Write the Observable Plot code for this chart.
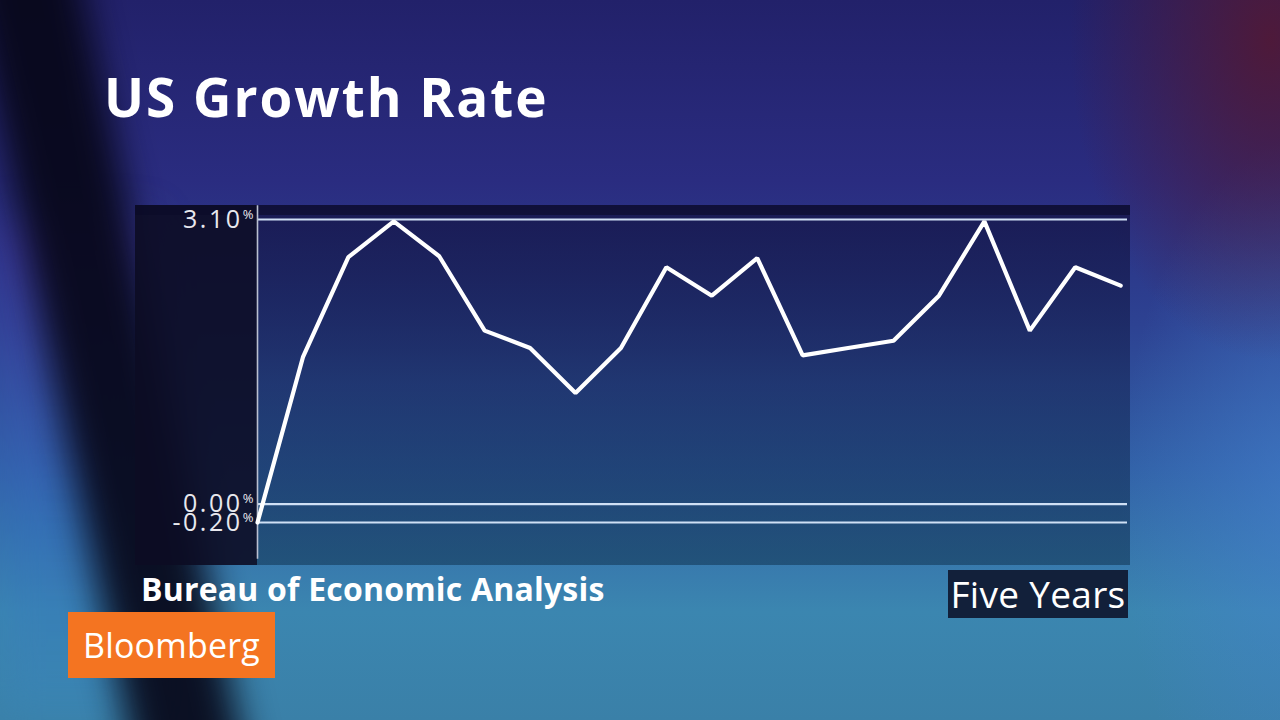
<!DOCTYPE html>
<html>
<head>
<meta charset="utf-8">
<script src="https://cdn.jsdelivr.net/npm/d3@7"></script>
<script src="https://cdn.jsdelivr.net/npm/@observablehq/plot@0.6"></script>
<style>
  html, body { margin: 0; padding: 0; }
  body {
    width: 1280px; height: 720px; overflow: hidden; position: relative;
    font-family: "Open Sans", "Lato", sans-serif;
    background:
      radial-gradient(ellipse 200px 320px at 1270px 40px, rgba(80,25,55,0.95), rgba(0,0,0,0)),
      radial-gradient(ellipse 180px 360px at 1300px 500px, rgba(70,130,210,0.55), rgba(0,0,0,0)),
      linear-gradient(180deg, #22216a 0%, #2a2c80 25%, #2d4292 45%, #3262a8 65%, #3b86b0 85%, #3a80a8 100%);
  }
  #leftglow {
    position: absolute; left: 0; top: 220px; width: 150px; height: 500px;
    background: linear-gradient(180deg, rgba(70,50,160,0.6) 0%, rgba(50,110,190,0.5) 60%, rgba(60,140,190,0.4) 100%);
    filter: blur(20px);
  }
  #shadow {
    position: absolute; left: -40px; top: -60px; width: 110px; height: 880px;
    background: rgba(6,6,24,0.92);
    transform: rotate(-12deg); transform-origin: top left; filter: blur(18px);
  }
  .t { position: absolute; color: #fff; white-space: nowrap; line-height: 1; }
  #title { left: 104px; top: 70px; font-size: 53px; font-weight: 700; letter-spacing: 2px; }
  #panelLeft {
    position: absolute; left: 135px; top: 205px; width: 122px; height: 360px;
    background: rgba(12,12,35,0.9);
  }
  #panelPlot {
    position: absolute; left: 257px; top: 205px; width: 873px; height: 360px;
    background: linear-gradient(180deg, rgba(20,20,70,0.75) 0%, rgba(20,35,80,0.55) 50%, rgba(15,50,80,0.55) 100%);
  }
  #panelTop {
    position: absolute; left: 135px; top: 205px; width: 995px; height: 10px;
    background: rgba(10,10,40,0.6);
  }
  #chart { position: absolute; left: 135px; top: 205px; }
  #chart svg text { letter-spacing: 2.5px; }
  #chart svg g.pct text { letter-spacing: 0; }
  #source { left: 141px; top: 573px; font-size: 32px; font-weight: 700; letter-spacing: 0.2px; }
  #period {
    position: absolute; left: 948px; top: 570px; width: 180px; height: 48px;
    background: #12203a; color: #fff; font-size: 37px; line-height: 48px;
    text-align: center; white-space: nowrap; letter-spacing: 0.3px;
  }
  #brand {
    position: absolute; left: 68px; top: 612px; width: 207px; height: 66px;
    background: #f47421; color: #fff; font-size: 34px; line-height: 66px;
    text-align: center; white-space: nowrap; letter-spacing: 0.2px;
  }
</style>
</head>
<body>
<div id="leftglow"></div>
<div id="shadow"></div>
<div id="title" class="t">US Growth Rate</div>
<div id="panelLeft"></div>
<div id="panelPlot"></div>
<div id="panelTop"></div>
<div id="chart"></div>
<div id="source" class="t">Bureau of Economic Analysis</div>
<div id="period">Five Years</div>
<div id="brand">Bloomberg</div>
<script>
// Quarterly readings over five years (index 0..19)
const quarters = d3.range(20);
const growth = [-0.20, 1.60, 2.69, 3.08, 2.70, 1.89, 1.70, 1.21, 1.70, 2.58,
                2.27, 2.68, 1.62, 1.70, 1.78, 2.27, 3.08, 1.89, 2.58, 2.38];
const tickValues = [3.10, 0.00, -0.20];

const data = quarters.map((q, i) => ({q, v: growth[i]}));

const chart = Plot.plot({
  width: 995,
  height: 360,
  marginLeft: 122,
  marginRight: 3,
  marginTop: 14,
  marginBottom: 43,
  style: {background: "transparent", overflow: "visible"},
  x: {domain: [0, 19.15], axis: null},
  y: {domain: [-0.2, 3.1]},
  marks: [
    Plot.ruleY(tickValues, {stroke: "#cfe0f5", strokeWidth: 2.2}),
    Plot.ruleX([0], {y1: -0.6, y2: 3.25, stroke: "#b9bfd0", strokeWidth: 1.6}),
    Plot.line(data, {x: "q", y: "v", stroke: "#ffffff", strokeWidth: 4.2, strokeLinejoin: "miter", strokeLinecap: "round"}),
    Plot.axisY(tickValues, {tickSize: 0, tickPadding: 0, dx: -15, tickFormat: d => d.toFixed(2),
      fontSize: 25, fill: "#e8e8ee", stroke: null, label: null, fontFamily: "Open Sans"}),
    Plot.axisY(tickValues, {tickSize: 0, tickPadding: 0, dx: -4, dy: -5, tickFormat: () => "%",
      fontSize: 13, fill: "#e8e8ee", label: null, fontFamily: "Open Sans", className: "pct"})
  ]
});
document.getElementById("chart").appendChild(chart);
</script>
</body>
</html>
